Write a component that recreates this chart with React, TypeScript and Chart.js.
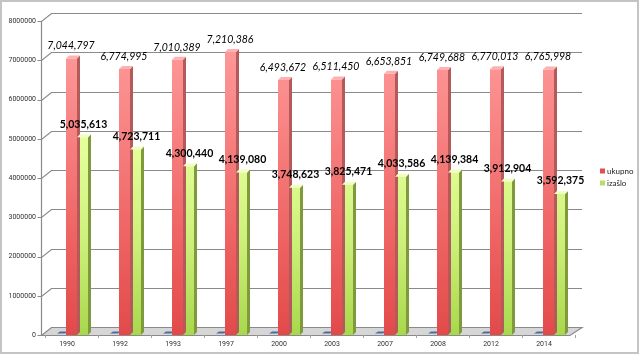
import React, { useEffect, useRef } from "react";
import { Chart, registerables } from "chart.js";

Chart.register(...registerables);

const categories = ["1990", "1992", "1993", "1997", "2000", "2003", "2007", "2008", "2012", "2014"];
const ukupno = [7044797, 6774995, 7010389, 7210386, 6493672, 6511450, 6653851, 6749688, 6770013, 6765998];
const izaslo = [5035613, 4723711, 4300440, 4139080, 3748623, 3825471, 4033586, 4139384, 3912904, 3592375];
const baseSeries = [0, 0, 0, 0, 0, 0, 0, 0, 0, 0];
const legendLabels = ["ukupno", "izašlo"];
const yMax = 8000000;
const yStep = 1000000;

const fmt = (v: number) => v.toLocaleString("en-US");

const DX = 3;
const DY = -3;

function gradientFor(chart: any, stops: [number, string][], fallback: string) {
  const a = chart.chartArea;
  if (!a) return fallback;
  const g = chart.ctx.createLinearGradient(0, a.top, 0, a.bottom);
  stops.forEach(([o, c]) => g.addColorStop(o, c));
  return g;
}

function drawWalls(chart: any) {
  const ctx = chart.ctx;
  const a = chart.chartArea;
  const y = chart.scales.y;
  const fl = a.left - 3.5;
  const bl = a.left + 6.5;
  const br = a.right + 7;
  const fr = a.right - 5;
  const p0 = Math.round(y.getPixelForValue(0)) + 0.5;
  const pTop = Math.round(y.getPixelForValue(yMax)) + 0.5;
  ctx.save();
  ctx.beginPath();
  ctx.moveTo(fl, p0);
  ctx.lineTo(bl, p0 - 8);
  ctx.lineTo(br, p0 - 8);
  ctx.lineTo(fr, p0);
  ctx.closePath();
  ctx.fillStyle = "#d6d6d6";
  ctx.fill();
  ctx.lineWidth = 1.2;
  ctx.strokeStyle = "#8a8a8a";
  ctx.stroke();
  for (let v = yStep; v <= yMax; v += yStep) {
    const py = Math.round(y.getPixelForValue(v)) + 0.5;
    ctx.beginPath();
    ctx.moveTo(fl - 4, py);
    ctx.lineTo(fl, py);
    ctx.lineTo(bl, py - 8);
    ctx.lineTo(br, py - 8);
    ctx.stroke();
  }
  ctx.beginPath();
  ctx.moveTo(fl, pTop);
  ctx.lineTo(fl, p0);
  ctx.moveTo(fl - 4, p0);
  ctx.lineTo(fl, p0);
  ctx.stroke();
  const m = chart.getDatasetMeta(0);
  ctx.fillStyle = "#4a6aa8";
  m.data.forEach((el: any) => {
    const l = el.x - el.width / 2 + 2;
    const r = el.x + el.width / 2 - 1;
    ctx.beginPath();
    ctx.moveTo(l, p0 - 2);
    ctx.lineTo(r, p0 - 2);
    ctx.lineTo(r + DX, p0 - 4);
    ctx.lineTo(l + DX, p0 - 4);
    ctx.closePath();
    ctx.fill();
  });
  ctx.restore();
}

const threeD = {
  id: "threeD",
  beforeDraw(chart: any) {
    const { ctx, width, height } = chart;
    ctx.save();
    ctx.fillStyle = "#ffffff";
    ctx.fillRect(0, 0, width, height);
    ctx.strokeStyle = "#c4c4c4";
    ctx.lineWidth = 2;
    ctx.strokeRect(1, 1, width - 3, height - 3);
    ctx.restore();
    drawWalls(chart);
  },
  afterDatasetsDraw(chart: any) {
    const { ctx } = chart;
    const faces = [
      { idx: 1, side: "#b45a5a", top: "#ffb0b0" },
      { idx: 2, side: "#7f9a3c", top: "#f2ffc0" },
    ];
    ctx.save();
    faces.forEach((f) => {
      const m = chart.getDatasetMeta(f.idx);
      m.data.forEach((el: any) => {
        const l = el.x - el.width / 2;
        const r = el.x + el.width / 2;
        const t = el.y;
        const b = el.base;
        ctx.fillStyle = f.side;
        ctx.beginPath();
        ctx.moveTo(r, t);
        ctx.lineTo(r + DX, t + DY);
        ctx.lineTo(r + DX, b + DY);
        ctx.lineTo(r, b);
        ctx.closePath();
        ctx.fill();
        ctx.fillStyle = f.top;
        ctx.beginPath();
        ctx.moveTo(l, t);
        ctx.lineTo(l + DX, t + DY);
        ctx.lineTo(r + DX, t + DY);
        ctx.lineTo(r, t);
        ctx.closePath();
        ctx.fill();
      });
    });
    ctx.textAlign = "center";
    ctx.textBaseline = "middle";
    ctx.fillStyle = "#000000";
    const m1 = chart.getDatasetMeta(1);
    ctx.font = "italic 10.5px Lato";
    m1.data.forEach((el: any, i: number) => {
      ctx.fillText(fmt(ukupno[i]), el.x - 0.5, el.y - 12.5);
    });
    const m2 = chart.getDatasetMeta(2);
    ctx.font = "bold 10.5px Lato";
    m2.data.forEach((el: any, i: number) => {
      ctx.fillText(fmt(izaslo[i]), el.x + 1, el.y - 13);
    });
    const colors = ["#e05050", "#b8e060"];
    ctx.textAlign = "left";
    ctx.font = "8px Lato";
    legendLabels.forEach((lab, i) => {
      const ly = 171 + i * 12;
      ctx.fillStyle = colors[i];
      ctx.fillRect(600, ly - 2.5, 5, 5);
      ctx.fillStyle = "#202020";
      ctx.fillText(lab, 607, ly);
    });
    ctx.restore();
  },
};

export default function App() {
  const ref = useRef<HTMLCanvasElement | null>(null);
  useEffect(() => {
    if (!ref.current) return;
    const chart = new Chart(ref.current, {
      type: "bar",
      data: {
        labels: categories,
        datasets: [
          { label: "base", data: baseSeries, backgroundColor: "rgba(0,0,0,0)" },
          {
            label: legendLabels[0],
            data: ukupno,
            backgroundColor: (c: any) =>
              gradientFor(c.chart, [[0, "#ffa0a0"], [0.35, "#f88282"], [0.7, "#ee6262"], [1, "#e24a4a"]], "#f07070"),
          },
          {
            label: legendLabels[1],
            data: izaslo,
            backgroundColor: (c: any) =>
              gradientFor(c.chart, [[0, "#f2ffb0"], [0.4, "#e4ff9a"], [0.7, "#cdf07a"], [1, "#a8d84c"]], "#d0f080"),
          },
        ],
      },
      options: {
        responsive: false,
        animation: false,
        layout: { padding: { top: 21, right: 65, bottom: 0, left: 0 } },
        plugins: { legend: { display: false }, tooltip: { enabled: false } },
        datasets: { bar: { barPercentage: 1, categoryPercentage: 0.623 } },
        scales: {
          x: {
            offset: true,
            grid: { display: true, drawOnChartArea: false, drawTicks: true, tickLength: 3, color: "#a0a0a0", offset: true },
            border: { display: false },
            ticks: { font: { family: "Roboto", size: 7 }, color: "#303030", padding: 2, labelOffset: -4.5, maxRotation: 0 },
            afterFit: (s: any) => {
              s.height = 20;
            },
          },
          y: {
            min: 0,
            max: yMax,
            grid: { display: false, drawTicks: false },
            border: { display: false },
            ticks: {
              stepSize: yStep,
              font: { family: "Roboto", size: 7 },
              color: "#303030",
              padding: 9,
              callback: (v: any) => String(v),
            },
            afterFit: (s: any) => {
              s.width = 45;
            },
          },
        },
      },
      plugins: [threeD],
    });
    return () => chart.destroy();
  }, []);
  return (
    <div style={{ position: "fixed", left: 0, top: 0, width: 640, height: 355 }}>
      <canvas ref={ref} width={640} height={355} style={{ display: "block" }} />
    </div>
  );
}
